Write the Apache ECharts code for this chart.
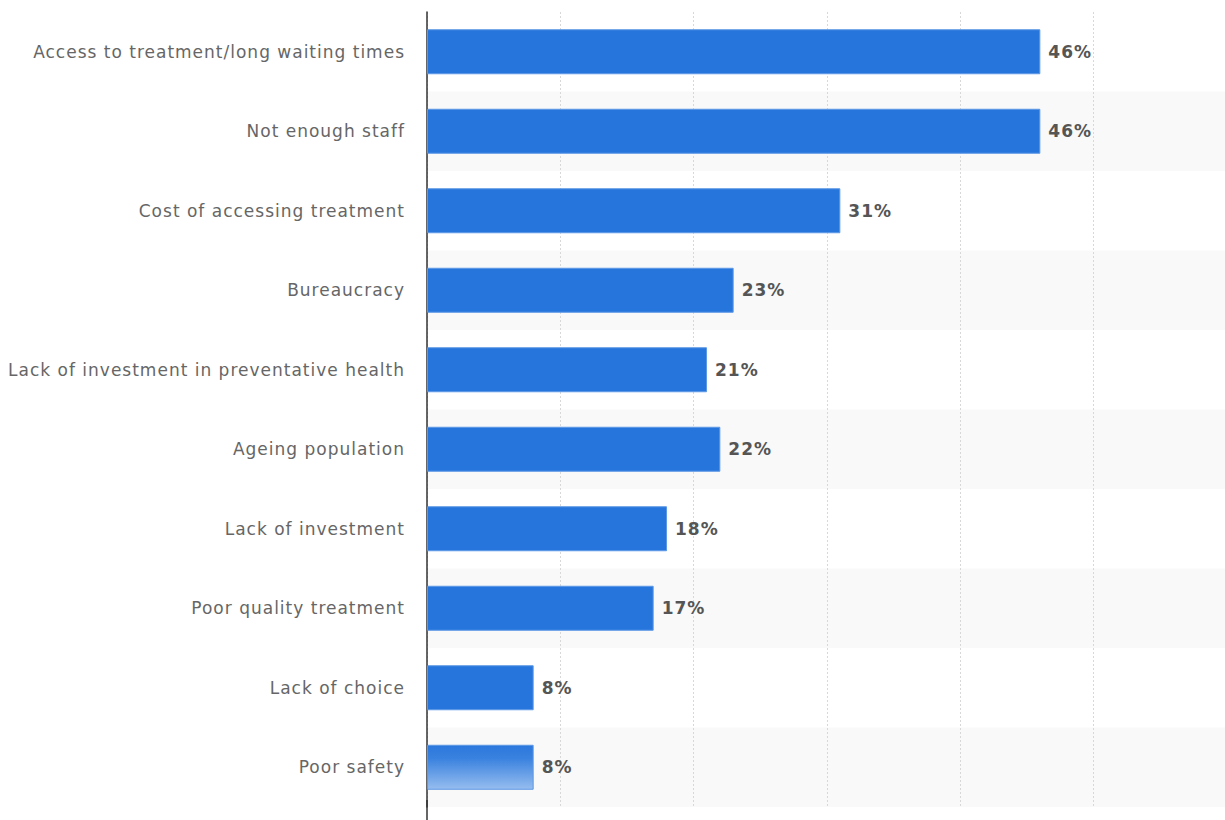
<!DOCTYPE html>
<html><head><meta charset="utf-8">
<script src="https://cdn.jsdelivr.net/npm/echarts@6/dist/echarts.min.js"></script>
<style>html,body{margin:0;padding:0;background:#fff}#c{width:1225px;height:820px}
#c svg text{letter-spacing:1px}</style>
</head><body><div id="c"></div>
<script>
const categories = ["Access to treatment/long waiting times","Not enough staff","Cost of accessing treatment","Bureaucracy","Lack of investment in preventative health","Ageing population","Lack of investment","Poor quality treatment","Lack of choice","Poor safety"];
const values = [46,46,31,23,21,22,18,17,8,8];
const xMin = 0, xMax = 59.85, xInterval = 10;

const chart = echarts.init(document.getElementById('c'), null, {renderer:'svg'});
const data = values.map((v,i)=> i===values.length-1 ? {value:v,itemStyle:{color:new echarts.graphic.LinearGradient(0,0,0,1,[{offset:0,color:'#2a77dc'},{offset:0.3,color:'#3a82df'},{offset:1,color:'#96bdef'}])}} : v);
chart.setOption({
  animation:false,
  grid:{left:427,right:0,top:12,bottom:13,containLabel:false},
  xAxis:{type:'value',min:xMin,max:xMax,interval:xInterval,
    axisLabel:{show:false},axisLine:{show:false},axisTick:{show:false},
    splitLine:{show:true,lineStyle:{color:'#d8d8d8',type:[2,2],width:1}}},
  yAxis:{type:'category',data:categories,inverse:true,
    axisLine:{show:true,lineStyle:{color:'#333',width:1.5}},axisTick:{show:false},
    axisLabel:{color:'#666',fontFamily:'DejaVu Sans',fontSize:17,margin:22},
    splitArea:{show:true,areaStyle:{color:['#ffffff','#f9f9f9']}}},
  graphic:[{type:'line',shape:{x1:427,y1:800,x2:427,y2:820},style:{stroke:'#333',lineWidth:1.5},z:10}],
  series:[{type:'bar',data:data,barWidth:45,
    itemStyle:{color:'#2675dc',borderColor:'#5d98e5',borderWidth:1},
    label:{show:true,position:'right',distance:8,formatter:'{c}%',color:'#555',fontFamily:'DejaVu Sans',fontWeight:'bold',fontSize:17}}]
});
</script></body></html>
